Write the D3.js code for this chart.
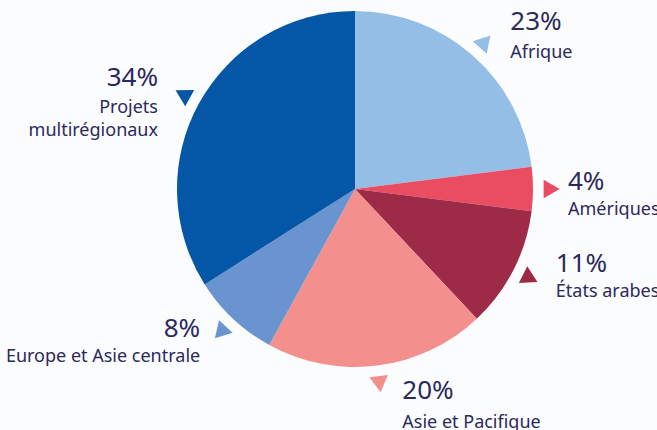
<!DOCTYPE html>
<html lang="fr">
<head>
<meta charset="utf-8">
<script src="https://cdn.jsdelivr.net/npm/d3@7"></script>
<style>
  html, body { margin: 0; padding: 0; background: #fbfcfe; overflow: hidden; }
  svg { display: block; }
  text { font-family: "Noto Sans", "Open Sans", sans-serif; fill: #2c295c; }
</style>
</head>
<body>
<svg id="chart" width="657" height="430"></svg>
<script>
// Répartition par région (en %)
const regions = ["Afrique", "Amériques", "États arabes", "Asie et Pacifique", "Europe et Asie centrale", "Projets multirégionaux"];
const shares = [23, 4, 11, 20, 8, 34];
const colours = ["#95bee7", "#ea4c62", "#9d2b47", "#f38f8c", "#6a94d0", "#0456a6"];
// Lignes du libellé de chaque région
const labelLines = [["Afrique"], ["Amériques"], ["États arabes"], ["Asie et Pacifique"], ["Europe et Asie centrale"], ["Projets", "multirégionaux"]];

const width = 657, height = 430;
const cx = 355, cy = 189, radius = 178, markerRadius = 194;

const svg = d3.select("#chart");
const g = svg.append("g").attr("transform", `translate(${cx},${cy})`);

const pie = d3.pie().sort(null).value(d => d.value);
const data = pie(regions.map((r, i) => ({ region: r, value: shares[i], colour: colours[i], lines: labelLines[i] })));

const arc = d3.arc().innerRadius(0).outerRadius(radius);
const markerArc = d3.arc().innerRadius(markerRadius).outerRadius(markerRadius);

g.selectAll("path.slice")
  .data(data)
  .join("path")
  .attr("class", "slice")
  .attr("d", arc)
  .attr("fill", d => d.data.colour);

// Petits triangles pointant vers l'extérieur au milieu de chaque secteur
const tri = d3.symbol().type(d3.symbolTriangle).size(150);
g.selectAll("path.marker")
  .data(data)
  .join("path")
  .attr("class", "marker")
  .attr("d", tri)
  .attr("fill", d => d.data.colour)
  .attr("transform", d => {
    const [x, y] = markerArc.centroid(d);
    const deg = (d.startAngle + d.endAngle) / 2 * 180 / Math.PI;
    return `translate(${x},${y}) rotate(${deg})`;
  });

// Décalage des libellés par rapport au triangle : [dx, dy du pourcentage, ancrage]
const labelOffsets = [
  [27, -13, "start"],
  [19, 1, "start"],
  [28, -5, "start"],
  [23, 18, "start"],
  [-22, 7, "end"],
  [-27, -10, "end"]
];
const lineGap = [28, 25, 25, 29, 25, 27];

const labels = g.selectAll("g.label")
  .data(data)
  .join("g")
  .attr("class", "label")
  .attr("transform", (d, i) => {
    const [x, y] = markerArc.centroid(d);
    return `translate(${x + labelOffsets[i][0]},${y + labelOffsets[i][1]})`;
  });

labels.append("text")
  .attr("text-anchor", (d, i) => labelOffsets[i][2])
  .style("font-size", "26px")
  .text(d => d.data.value + "%");

labels.each(function (d, i) {
  const sel = d3.select(this);
  d.data.lines.forEach((line, k) => {
    sel.append("text")
      .attr("text-anchor", labelOffsets[i][2])
      .attr("y", lineGap[i] + k * 23)
      .style("font-size", "18px")
      .text(line);
  });
});
</script>
</body>
</html>
